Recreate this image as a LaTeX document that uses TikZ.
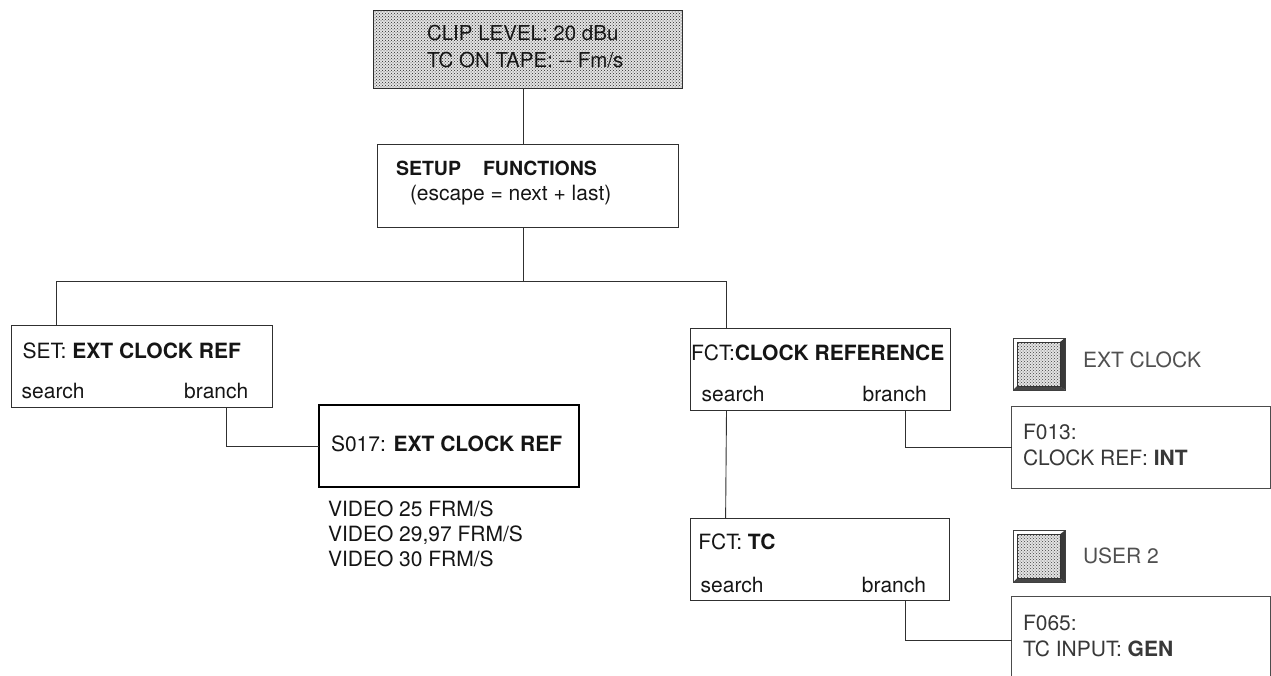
\documentclass[tikz,border=0pt]{standalone}
\usepackage{fontspec}
\setmainfont{TeX Gyre Heros}
\usetikzlibrary{patterns,calc}
\definecolor{linec}{HTML}{303030}
\definecolor{txtc}{HTML}{151515}
\definecolor{greyt}{HTML}{505050}
\definecolor{dtxt}{HTML}{383838}
\tikzset{
  box/.style={draw=linec, line width=0.9pt, inner sep=0pt, outer sep=0pt, fill=white},
  thickbox/.style={box, draw=black, line width=2pt},
  dotbox/.style={box, fill=gray!22, postaction={pattern=crosshatch dots, pattern color=black!85}},
  btn/.style={draw=black!75, line width=0.8pt, minimum size=52pt, inner sep=0pt, outer sep=0pt, fill=white},
  lbl/.style={anchor=base west, inner sep=0pt, outer sep=0pt, text=txtc, font=\fontsize{21}{25}\selectfont},
  lblr/.style={lbl, anchor=base east},
  conn/.style={draw=linec, line width=0.9pt},
}
\begin{document}
\begin{tikzpicture}[x=1pt,y=-1pt]
\useasboundingbox (0,0) rectangle (1271,675);
\fill[white] (0,0) rectangle (1271,675);

% boxes
\node[dotbox, minimum width=309pt, minimum height=78pt] (top) at (527.5,49) {};
\node[box, minimum width=301pt, minimum height=83pt] (setup) at (527.5,185.5) {};
\node[box, minimum width=261pt, minimum height=82pt] (set) at (142.2,366) {};
\node[thickbox, minimum width=259.7pt, minimum height=82pt] (s017) at (449.2,446) {};
\node[box, minimum width=259.3pt, minimum height=81.7pt] (fct) at (820.4,369.2) {};
\node[box, minimum width=259pt, minimum height=81.7pt] (tc) at (819.5,559.2) {};
\node[box, draw=black!70, minimum width=258.3pt, minimum height=81.6pt] (f013) at (1140.9,447.5) {};
\node[box, draw=black!70, minimum width=258.3pt, minimum height=88pt] (f065) at (1140.9,640.7) {};

% buttons
\foreach \nm/\yy in {ext/364, user/556.3}{
  \node[btn] (\nm) at (1039,\yy) {};
  \fill[gray!45!black] (\nm.north east) -- (\nm.south east) -- ([shift={(-5pt,4pt)}]\nm.south east) -- ([shift={(-5pt,-4pt)}]\nm.north east) -- cycle;
  \fill[gray!55!black] (\nm.south west) -- (\nm.south east) -- ([shift={(-5pt,4pt)}]\nm.south east) -- ([shift={(4pt,4pt)}]\nm.south west) -- cycle;
  \draw[black!80, line width=0.6pt, fill=gray!22, postaction={pattern=crosshatch dots, pattern color=black!75}]
    ([shift={(4pt,-4pt)}]\nm.north west) rectangle ([shift={(-5pt,4pt)}]\nm.south east);
  \draw[black!75, line width=0.8pt] (\nm.north west) rectangle (\nm.south east);
}

% connectors
\coordinate (jm) at (523,281);
\coordinate (jl) at (56.7,281);
\coordinate (jr) at (726.7,281);
\draw[conn] ([xshift=-4.5pt]top.south) -- ([xshift=-4.5pt]setup.north);
\draw[conn] ([xshift=-4.5pt]setup.south) -- (jm);
\draw[conn] (jl) -- (jr);
\draw[conn] (jl) -- (jl |- set.north);
\draw[conn] (jr) -- (jr |- fct.north);
\draw[conn] ([xshift=83.8pt]set.south) |- (s017.west);
\draw[conn] ([xshift=-93.9pt]fct.south) -- ([xshift=-93.9pt]tc.north);
\draw[conn] ([xshift=84.6pt]fct.south) |- (f013.west);
\draw[conn] ([xshift=85.5pt]tc.south) |- (f065.west);

% texts
\node[lbl, font=\fontsize{20.5}{24}\selectfont] (t1) at (427,40) {CLIP LEVEL: 20 dBu};
\node[lbl, font=\fontsize{20.5}{24}\selectfont] (t2) at (427,67) {TC ON TAPE: -{}- Fm/s};

\node[lbl, font=\fontsize{19.5}{24}\selectfont\bfseries] (s1) at (396,175) {SETUP\hspace{22pt}FUNCTIONS};
\node[lbl, font=\fontsize{21}{25}\selectfont] (s2) at (410,200) {(escape = next + last)};

\node[lbl] (a1) at (22.7,358) {SET: \textbf{EXT CLOCK REF}};
\node[lbl] (a2) at (21.7,398) {search};
\node[lblr] (a3) at (248.3,398) {branch};

\node[lbl] (b1) at (331,451) {S017: \textbf{EXT CLOCK REF}};
\node[lbl] (v1) at (328,516) {VIDEO 25 FRM/S};
\node[lbl] (v2) at (328,541) {VIDEO 29,97 FRM/S};
\node[lbl] (v3) at (328,566) {VIDEO 30 FRM/S};

\node[lbl] (c1) at (691,360) {FCT:\textbf{CLOCK REFERENCE}};
\node[lbl] (c2) at (701.7,401) {search};
\node[lblr] (c3) at (926.7,401) {branch};

\node[lbl] (d1) at (698.3,549) {FCT: \textbf{TC}};
\node[lbl] (d2) at (700.7,592) {search};
\node[lblr] (d3) at (926,592) {branch};

\node[lbl, text=dtxt] (e1) at (1023,439) {F013:};
\node[lbl, text=dtxt] (e2) at (1023,465) {CLOCK REF: \textbf{INT}};
\node[lbl, text=dtxt] (g1) at (1023,630) {F065:};
\node[lbl, text=dtxt] (g2) at (1023,656) {TC INPUT: \textbf{GEN}};

\node[lbl, text=greyt] (x1) at (1083,367) {EXT CLOCK};
\node[lbl, text=greyt] (x2) at (1083,563) {USER 2};
\end{tikzpicture}
\end{document}
